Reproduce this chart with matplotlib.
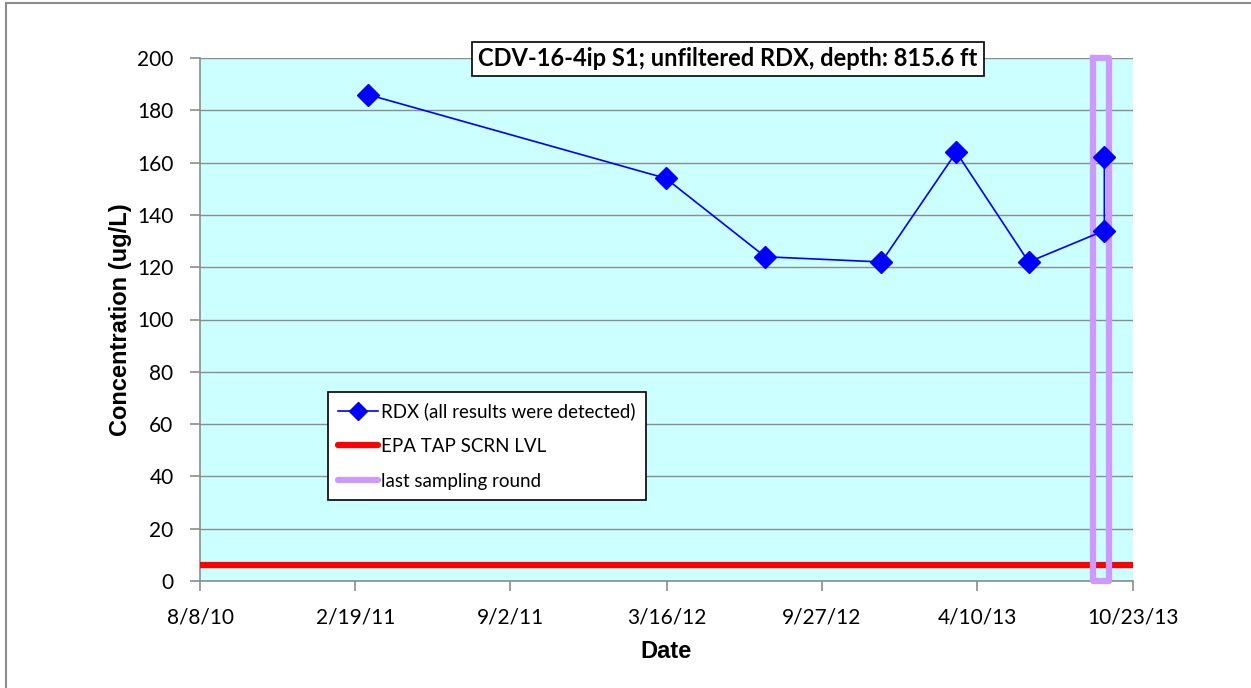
import matplotlib
matplotlib.use("Agg")
import matplotlib.pyplot as plt
from matplotlib.patches import Rectangle
from matplotlib.lines import Line2D
import datetime as dt

# ---- data ----
sample_dates = ["2011-03-07", "2012-03-15", "2012-07-18", "2012-12-11",
                "2013-03-15", "2013-06-14", "2013-09-17", "2013-09-17"]
rdx_values = [186, 154, 124, 122, 164, 122, 134, 162]
epa_level = 6.1
last_round_start = "2013-09-03"
last_round_end = "2013-09-23"
tick_labels = ["8/8/10", "2/19/11", "9/2/11", "3/16/12", "9/27/12",
               "4/10/13", "10/23/13"]
y_ticks = [0, 20, 40, 60, 80, 100, 120, 140, 160, 180, 200]
title_text = "CDV-16-4ip S1; unfiltered RDX, depth: 815.6 ft"

def D(s):
    return dt.datetime.strptime(s, "%Y-%m-%d")

dates = [D(s) for s in sample_dates]
tick_dates = [dt.datetime.strptime(t, "%m/%d/%y") for t in tick_labels]
xmin, xmax = tick_dates[0], tick_dates[-1]

fig = plt.figure(figsize=(12.51, 6.88), dpi=100)
fig.patch.set_facecolor("white")
ax = fig.add_axes([200/1251, 1-581/688, 933/1251, 523/688])
ax.set_facecolor("#CCFFFF")

# gridlines
ax.set_yticks(y_ticks)
ax.yaxis.grid(True, color="#8C8C8C", linewidth=1.0)
ax.set_axisbelow(True)

# EPA line
ax.plot([xmin, xmax], [epa_level, epa_level], color="#FF0000", linewidth=4.5,
        solid_capstyle="round", zorder=3)

# last sampling round rectangle
r0, r1 = D(last_round_start), D(last_round_end)
rx = [r0, r1, r1, r0, r0]
ry = [200, 200, 0, 0, 200]
ax.plot(rx, ry, color="#CC99FF", linewidth=4.5, zorder=4, clip_on=False)

# RDX series
ax.plot(dates, rdx_values, color="#0000FF", linewidth=1.2, marker="D",
        markersize=11, zorder=5)

ax.set_xlim(xmin, xmax)
ax.set_ylim(0, 200)
ax.set_xticks(tick_dates)
ax.set_xticklabels(tick_labels)

for s in ax.spines.values():
    s.set_color("#8C8C8C")
    s.set_linewidth(1.2)
ax.spines["top"].set_visible(False)
ax.spines["right"].set_visible(False)
ax.tick_params(axis="both", colors="#8C8C8C", length=7, width=1.2,
               labelcolor="black", labelsize=15)
ax.tick_params(axis="y", pad=12)
ax.tick_params(axis="x", pad=12)
for lab in ax.get_xticklabels() + ax.get_yticklabels():
    lab.set_family(["Lato", "DejaVu Sans"])

ax.set_xlabel("Date", fontsize=17, fontweight="bold",
              family=["Liberation Sans", "DejaVu Sans"], labelpad=9)
ax.set_ylabel("Concentration (ug/L)", fontsize=17, fontweight="bold",
              family=["Liberation Sans", "DejaVu Sans"], labelpad=4)

# legend
handles = [
    Line2D([], [], color="#0000FF", linewidth=1.2, marker="D", markersize=9),
    Line2D([], [], color="#FF0000", linewidth=4.5, solid_capstyle="round"),
    Line2D([], [], color="#CC99FF", linewidth=4.5, solid_capstyle="round"),
]
labels = ["RDX (all results were detected)", "EPA TAP SCRN LVL",
          "last sampling round"]
leg = ax.legend(handles, labels, loc="upper left",
                bbox_to_anchor=((328-200)/933, (581-392)/523),
                frameon=True, fancybox=False, framealpha=1, edgecolor="black",
                prop={"family": ["Lato", "DejaVu Sans"], "size": 13.5},
                handlelength=2.1, handletextpad=0.2, labelspacing=0.95,
                borderpad=0.55, borderaxespad=0)
leg.get_frame().set_linewidth(1.2)

# title box
ax.text((728-200)/933, (581-59)/523, title_text, transform=ax.transAxes,
        ha="center", va="center", fontsize=17, fontweight="bold",
        family=["Lato", "DejaVu Sans"], zorder=10,
        bbox=dict(boxstyle="square,pad=0.25", facecolor="white",
                  edgecolor="black", linewidth=1.2))

# figure border
fig.patches.append(Rectangle((6/1251, -0.1), 1.2, 1.1 - 3/688,
                             transform=fig.transFigure, fill=False,
                             edgecolor="#8C8C8C", linewidth=1.5))

fig.savefig("out.png", dpi=100)
